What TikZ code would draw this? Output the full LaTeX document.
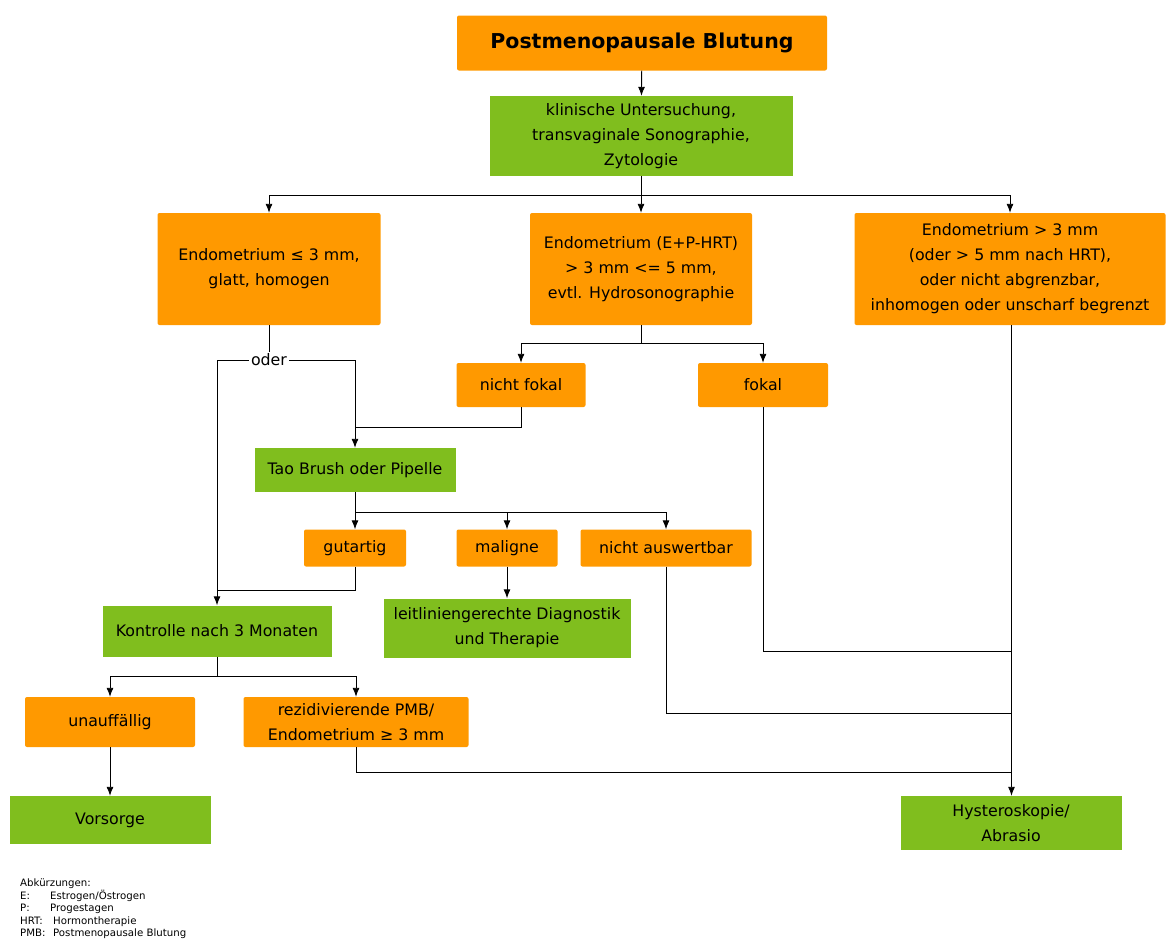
\documentclass[tikz,border=0pt]{standalone}
\usepackage{fontspec}
\setmainfont{DejaVu Sans}
\usepackage{tikz}
\usetikzlibrary{arrows.meta}
\tikzset{>={Latex[length=9pt,width=7pt]}}
\definecolor{pmborange}{RGB}{255,153,0}
\definecolor{pmbgreen}{RGB}{128,190,30}
\tikzset{
  obox/.style={fill=pmborange, rounded corners=2pt, align=center, inner sep=0pt,
    font=\fontsize{15.8}{25}\selectfont},
  gbox/.style={fill=pmbgreen, align=center, inner sep=0pt,
    font=\fontsize{15.8}{25}\selectfont},
  line/.style={draw=black, line width=0.9pt}
}

\begin{document}
\begin{tikzpicture}[x=1pt,y=-1pt]
\useasboundingbox (0,0) rectangle (1167,940);
% boxes
\node[obox, minimum width=370pt, minimum height=55pt, font=\fontsize{20.5}{26}\selectfont\bfseries] (title) at (642,43) {Postmenopausale Blutung};
\node[gbox, minimum width=303pt, minimum height=80pt] (klin) at (641,136) {klinische Untersuchung,\\transvaginale Sonographie,\\Zytologie};
\node[obox, minimum width=223pt, minimum height=112pt] (endoL) at (269,269) {Endometrium ≤ 3 mm,\\glatt, homogen};
\node[obox, minimum width=222pt, minimum height=112pt] (endoM) at (641,269) {Endometrium (E+P-HRT)\\> 3 mm <= 5 mm,\\evtl. Hydrosonographie};
\node[obox, minimum width=311pt, minimum height=112pt] (endoR) at (1010,269) {Endometrium > 3 mm\\(oder > 5 mm nach HRT),\\oder nicht abgrenzbar,\\inhomogen oder unscharf begrenzt};
\node[obox, minimum width=129pt, minimum height=44pt] (nfok) at (521,385) {nicht fokal};
\node[obox, minimum width=130pt, minimum height=44pt] (fok) at (763,385) {fokal};
\node[gbox, minimum width=201pt, minimum height=44pt] (tao) at (355,470) {Tao Brush oder Pipelle};
\node[obox, minimum width=102pt, minimum height=37pt] (gut) at (355,548) {gutartig};
\node[obox, minimum width=101pt, minimum height=37pt] (mal) at (507,548) {maligne};
\node[obox, minimum width=171pt, minimum height=37pt] (nausw) at (666,548) {nicht auswertbar};
\node[gbox, minimum width=229pt, minimum height=51pt] (kontr) at (217,631) {Kontrolle nach 3 Monaten};
\node[gbox, minimum width=247pt, minimum height=59pt] (leit) at (507,628) {leitliniengerechte Diagnostik\\und Therapie};
\node[obox, minimum width=170pt, minimum height=50pt] (unauff) at (110,722) {unauffällig};
\node[obox, minimum width=225pt, minimum height=50pt] (rez) at (356,722) {rezidivierende PMB/\\Endometrium ≥ 3 mm};
\node[gbox, minimum width=201pt, minimum height=48pt] (vors) at (110,820) {Vorsorge};
\node[gbox, minimum width=221pt, minimum height=54pt] (hyst) at (1011,823) {Hysteroskopie/\\Abrasio};
\node[fill=white, inner sep=2pt, font=\fontsize{15.8}{18}\selectfont] (oder) at (269,360) {oder};
% branch points
\coordinate (s1) at (641,195);
\coordinate (s2) at (641,343);
\coordinate (o1) at (217,360);
\coordinate (o2) at (355,360);
\coordinate (s3) at (355,427);
\coordinate (s4) at (355,512);
\coordinate (j1) at (217,590);
\coordinate (s5) at (217,676);
\coordinate (r1) at (1011.5,651);
\coordinate (r2) at (1011.5,713);
\coordinate (r3) at (1011.5,772);
% connectors
\draw[line,->] (title) -- (klin);
\draw[line] (klin) -- (s1);
\draw[line,->] (s1) -| (endoL);
\draw[line,->] (s1) -- (endoM);
\draw[line,->] (s1) -| (endoR);
\draw[line] (endoL) -- (oder);
\draw[line,->] (oder) -- (o1) -- (kontr);
\draw[line,->] (oder) -- (o2) -- (tao);
\draw[line] (endoM) -- (s2);
\draw[line,->] (s2) -| (nfok);
\draw[line,->] (s2) -| (fok);
\draw[line] (nfok) |- (s3);
\draw[line] (tao) -- (s4);
\draw[line,->] (s4) -- (gut);
\draw[line,->] (s4) -| (mal);
\draw[line,->] (s4) -| (nausw);
\draw[line,->] (mal) -- (leit);
\draw[line] (gut) |- (j1);
\draw[line] (kontr) -- (s5);
\draw[line,->] (s5) -| (unauff);
\draw[line,->] (s5) -| (rez);
\draw[line,->] (unauff) -- (vors);
\draw[line,->] (endoR.south -| r1) -- (hyst.north -| r1);
\draw[line] (fok) |- (r1);
\draw[line] (nausw) |- (r2);
\draw[line] (rez) |- (r3);
% abbreviations
\node[anchor=north west, align=left, inner sep=0pt, font=\fontsize{10.2}{12.5}\selectfont] (abk) at (20,879)
  {Abkürzungen:\\
   \makebox[30pt][l]{E:}Estrogen/Östrogen\\
   \makebox[30pt][l]{P:}Progestagen\\
   \makebox[33pt][l]{HRT:}Hormontherapie\\
   \makebox[33pt][l]{PMB:}Postmenopausale Blutung};
\end{tikzpicture}
\end{document}
